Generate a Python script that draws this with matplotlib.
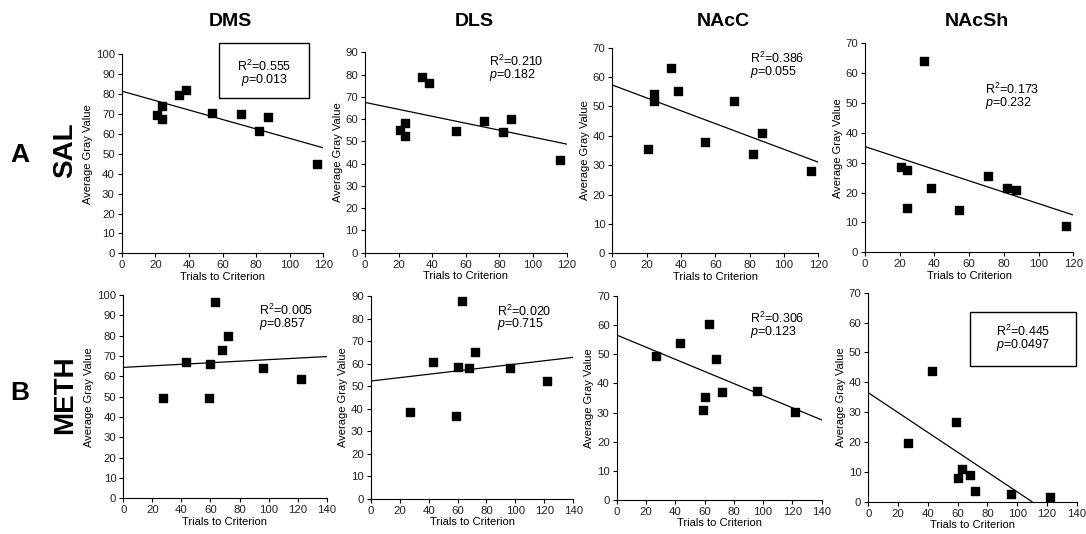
import matplotlib
matplotlib.use("Agg")
import matplotlib.pyplot as plt
from matplotlib.patches import Rectangle
import numpy as np

plt.rcParams['font.family'] = ['Liberation Sans', 'DejaVu Sans']
plt.rcParams['mathtext.fontset'] = 'custom'
plt.rcParams['mathtext.rm'] = 'Liberation Sans'
plt.rcParams['mathtext.it'] = 'Liberation Sans:italic'

regions = ['DMS', 'DLS', 'NAcC', 'NAcSh']
groups = ['SAL', 'METH']
group_letters = ['A', 'B']

# trials to criterion (same animals in every region)
sal_trials = [21, 24, 24, 34, 38, 54, 71, 82, 87, 116]
meth_trials = [27, 43, 59, 60, 63, 68, 72, 96, 122]

# average gray value per region
sal_dms = [69.5, 74.0, 67.3, 79.5, 82.0, 70.5, 70.0, 61.5, 68.5, 45.0]
sal_dls = [55.0, 58.2, 52.2, 78.9, 76.2, 54.5, 59.0, 54.0, 60.0, 41.5]
sal_nacc = [35.5, 54.4, 51.8, 63.1, 55.3, 38.0, 51.8, 33.7, 40.8, 28.0]
sal_nacsh = [28.5, 27.6, 15.0, 64.2, 21.4, 14.2, 25.6, 21.4, 20.9, 8.8]

meth_dms = [49.5, 67.2, 49.5, 66.0, 96.4, 73.0, 79.8, 64.0, 58.5]
meth_dls = [38.7, 60.9, 36.9, 58.6, 87.7, 57.9, 65.3, 58.2, 52.3]
meth_nacc = [49.4, 53.9, 30.9, 35.3, 60.3, 48.3, 37.2, 37.4, 30.3]
meth_nacsh = [19.8, 43.7, 26.8, 8.0, 10.9, 8.9, 3.7, 2.6, 1.7]

# regression lines (intercept, slope)
sal_intercepts = [81.5, 67.5, 57.3, 35.4]
sal_slopes = [-0.2375, -0.156, -0.219, -0.191]
meth_intercepts = [64.4, 52.3, 56.6, 36.5]
meth_slopes = [0.038, 0.075, -0.208, -0.332]

sal_r2 = ['0.555', '0.210', '0.386', '0.173']
sal_p = ['0.013', '0.182', '0.055', '0.232']
meth_r2 = ['0.005', '0.020', '0.306', '0.445']
meth_p = ['0.857', '0.715', '0.123', '0.0497']

sal_ymax = [100, 90, 70, 70]
meth_ymax = [100, 90, 70, 70]

W, H = 1086, 534
fig = plt.figure(figsize=(W / 100, H / 100), dpi=100)

# axes boxes in pixels: left, right, top, bottom
boxes = [
    [(121.7, 323.3, 54.3, 253.3), (365, 566.7, 52.3, 252.7),
     (612.3, 818.3, 47.7, 253.3), (865, 1073.3, 43.3, 252.3)],
    [(123.3, 326.7, 295, 498.3), (370.7, 573.3, 296, 499),
     (616.7, 821.7, 296, 500), (868.3, 1076.7, 292.7, 501.7)],
]
# stats text anchor (x, y of first line) in pixels, and whether boxed
stat_pos = [
    [(264.3, 66.7, True), (489.3, 61.7, False), (750, 58.3, False), (985, 89.3, False)],
    [(259.3, 310, False), (496.7, 311, False), (750, 318.3, False), (1023, 331.7, True)],
]
stat_boxes = {(0, 0): (219.3, 309.3, 43.3, 97.7), (1, 3): (970, 1076, 312.3, 366)}

rows = [
    (sal_trials, [sal_dms, sal_dls, sal_nacc, sal_nacsh], sal_intercepts, sal_slopes,
     sal_r2, sal_p, sal_ymax, 120),
    (meth_trials, [meth_dms, meth_dls, meth_nacc, meth_nacsh], meth_intercepts, meth_slopes,
     meth_r2, meth_p, meth_ymax, 140),
]


def fx(x):
    return x / W


def fy(y):
    return 1 - y / H


for r, (trials, vals, icpts, slopes, r2s, ps, ymaxs, xmax) in enumerate(rows):
    for c in range(4):
        l, rr, t, b = boxes[r][c]
        ax = fig.add_axes([fx(l), fy(b), (rr - l) / W, (b - t) / H])
        ax.scatter(trials, vals[c], marker='s', s=34, color='black', clip_on=False, zorder=3)

        # fitted line, stopped where it leaves the axes
        x_end = xmax
        if slopes[c] < 0 and -icpts[c] / slopes[c] < xmax:
            x_end = -icpts[c] / slopes[c]
        xs = np.array([0, x_end])
        ax.plot(xs, icpts[c] + slopes[c] * xs, color='black', lw=0.9)

        ax.set_xlim(0, xmax)
        ax.set_ylim(0, ymaxs[c])
        ax.set_xticks(np.arange(0, xmax + 1, 20))
        ax.set_yticks(np.arange(0, ymaxs[c] + 1, 10))
        for s in ['top', 'right']:
            ax.spines[s].set_visible(False)
        for s in ['left', 'bottom']:
            ax.spines[s].set_linewidth(0.8)
        ax.tick_params(direction='out', length=3, width=0.8, labelsize=8.2, pad=2,
                       labelcolor='#222222')
        ax.set_xlabel('Trials to Criterion', fontsize=8, labelpad=1)
        ax.set_ylabel('Average Gray Value', fontsize=8, labelpad=2)

        sx, sy, boxed = stat_pos[r][c]
        ha = 'center' if boxed else 'left'
        fig.text(fx(sx), fy(sy), r'R$^{2}$=' + r2s[c], fontsize=9, ha=ha, va='center')
        fig.text(fx(sx), fy(sy + 13.5), r'$p$=' + ps[c], fontsize=9, ha=ha, va='center')
        if (r, c) in stat_boxes:
            bl, br, bt, bb = stat_boxes[(r, c)]
            fig.add_artist(Rectangle((fx(bl), fy(bb)), (br - bl) / W, (bb - bt) / H,
                                     transform=fig.transFigure, fill=False,
                                     edgecolor='black', lw=1.0))

        if r == 0:
            fig.text(fx((l + rr) / 2 + 8), fy(21), regions[c], fontsize=14,
                     fontweight='bold', ha='center', va='center')

# row labels
fig.text(fx(20), fy(155), group_letters[0], fontsize=19, fontweight='bold', ha='center', va='center')
fig.text(fx(65), fy(150), groups[0], fontsize=20, fontweight='bold', ha='center', va='center', rotation=90)
fig.text(fx(20), fy(393), group_letters[1], fontsize=19, fontweight='bold', ha='center', va='center')
fig.text(fx(65), fy(395), groups[1], fontsize=20, fontweight='bold', ha='center', va='center', rotation=90)

fig.savefig('out.png', dpi=100)
